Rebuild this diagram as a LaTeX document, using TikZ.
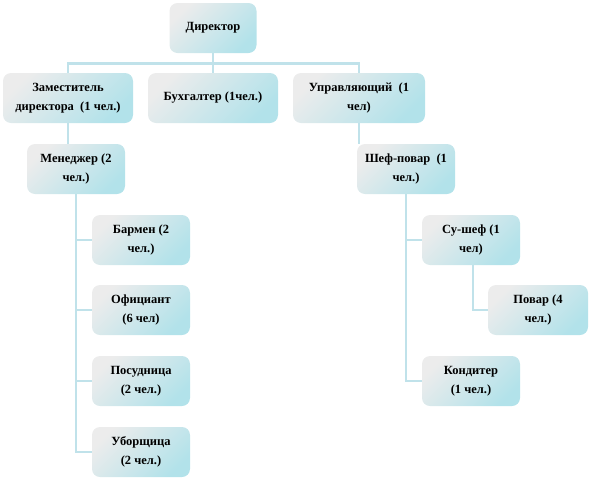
\documentclass[tikz,border=0pt]{standalone}
\usepackage{fontspec}
\setmainfont{Liberation Serif}
\usetikzlibrary{positioning,calc}

\definecolor{boxgray}{RGB}{236,236,236}
\definecolor{boxcyan}{RGB}{178,226,234}
\definecolor{linkblue}{RGB}{192,226,234}

\begin{document}
\begin{tikzpicture}[
  x=1pt,y=-1pt,
  font=\fontsize{12.5}{19}\selectfont\bfseries,
  post/.style={rounded corners=8pt,align=center,inner sep=2pt,
               top color=boxgray,bottom color=boxcyan,shading angle=45,
               minimum width=#1,minimum height=50pt},
  post/.default=98pt,
  link/.style={line width=2.6pt,linkblue},
]
\useasboundingbox (0,0) rectangle (590,480);

% --- head and first level ---
\node[post=87pt]  (dir) at (213,28) {Директор};
\node[post=130pt] (dep) at (68,98)  {Заместитель\\директора\ \ (1 чел.)};
\node[post=130pt] (acc) at (213,98) {Бухгалтер (1чел.)};
\node[post=132pt] (upr) at (359,98) {Управляющий\ \ (1\\чел)};

% --- hall staff (left branch) ---
\node[post] (mgr)  at (76,169)  {Менеджер (2\\чел.)};
\node[post] (bar)  at (141,240) {Бармен (2\\чел.)};
\node[post] (wait) at (141,310) {Официант\\(6 чел)};
\node[post] (dish) at (141,381) {Посудница\\(2 чел.)};
\node[post] (clean) at (141,452) {Уборщица\\(2 чел.)};

% --- kitchen staff (right branch) ---
\node[post] (chef)  at (406,169) {Шеф-повар\ \ (1\\чел.)};
\node[post] (sous)  at (471,240) {Су-шеф (1\\чел)};
\node[post=100pt] (cook) at (538,310) {Повар (4\\чел.)};
\node[post] (pastry) at (471,381) {Кондитер\\(1 чел.)};

% --- connectors ---
\draw[link] (dir.south) -- ++(0,10) -| (dep.north);
\draw[link] (dir.south) -- (acc.north);
\draw[link] (dir.south) -- ++(0,10) -| (upr.north);

\draw[link] (dep.south) -- (dep.south |- mgr.north);
\draw[link] (upr.south) -- (upr.south |- chef.north);

\foreach \n in {bar,wait,dish,clean}
  \draw[link] (mgr.south) |- (\n.west);
\foreach \n in {sous,pastry}
  \draw[link] (chef.south) |- (\n.west);
\draw[link] ([xshift=2pt]sous.south) |- (cook.west);

\end{tikzpicture}
\end{document}
